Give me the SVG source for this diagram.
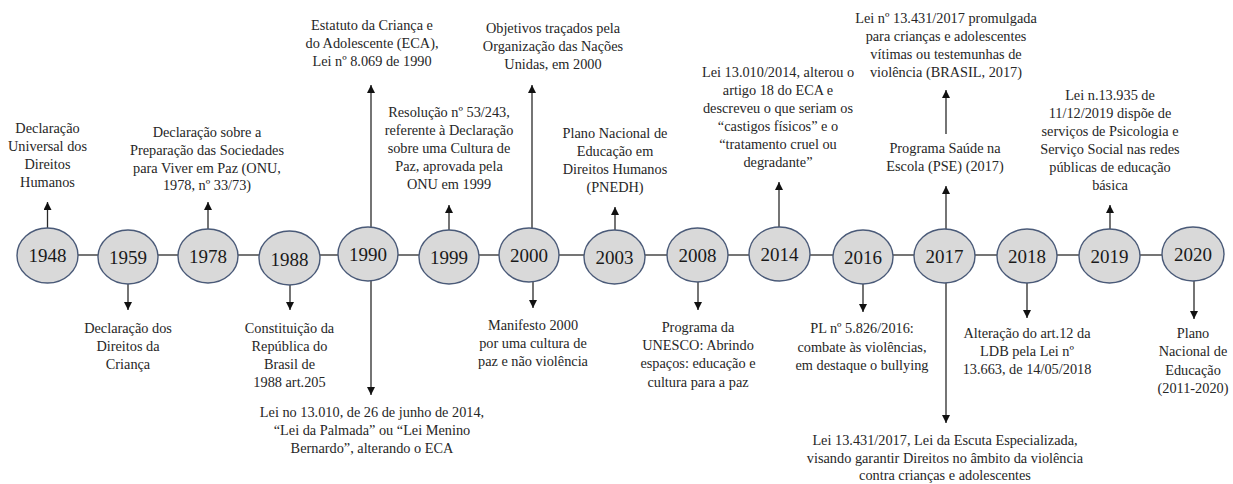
<svg xmlns="http://www.w3.org/2000/svg" width="1233" height="484" viewBox="0 0 1233 484">
<style>
.n ellipse{fill:#d9d9d9;stroke:#4a5a78;stroke-width:1.4}
.yr{font-family:"Liberation Serif",serif;font-size:19px;fill:#1a1a1a;text-anchor:middle}
.lb{font-family:"Liberation Serif",serif;font-size:14.3px;fill:#262626;text-anchor:middle}
.c line{stroke:#2a2a2a;stroke-width:1.3;fill:none}
.c .a{marker-end:url(#ah)}
</style>
<defs>
<marker id="ah" viewBox="0 0 10 10" refX="10" refY="5" markerWidth="8" markerHeight="8" markerUnits="userSpaceOnUse" orient="auto">
<path d="M0,0 L10,5 L0,10 z" fill="#111"/>
</marker>
</defs>
<g class="c" id="connectors">
<line x1="78" y1="255" x2="98" y2="255"/>
<line x1="158" y1="255" x2="178" y2="255"/>
<line x1="238" y1="255" x2="259" y2="255"/>
<line x1="320" y1="255" x2="338" y2="255"/>
<line x1="398" y1="255" x2="419" y2="255"/>
<line x1="479" y1="255" x2="499" y2="255"/>
<line x1="559" y1="255" x2="584" y2="255"/>
<line x1="645" y1="255" x2="667" y2="255"/>
<line x1="728" y1="255" x2="749" y2="255"/>
<line x1="810" y1="255" x2="833" y2="255"/>
<line x1="893" y1="255" x2="915" y2="255"/>
<line x1="975" y1="255" x2="997" y2="255"/>
<line x1="1057" y1="255" x2="1079" y2="255"/>
<line x1="1140" y1="255" x2="1162" y2="255"/>
<line class="a" x1="47.5" y1="228" x2="47.5" y2="202"/>
<line class="a" x1="208" y1="229" x2="208" y2="202"/>
<line class="a" x1="371" y1="227" x2="371" y2="85"/>
<line class="a" x1="449" y1="230" x2="449" y2="205"/>
<line class="a" x1="532" y1="228" x2="532" y2="85"/>
<line class="a" x1="615" y1="230" x2="615" y2="207"/>
<line class="a" x1="779" y1="227" x2="779" y2="182"/>
<line class="a" x1="946" y1="229" x2="946" y2="186"/>
<line class="a" x1="946" y1="134" x2="946" y2="90"/>
<line class="a" x1="1110" y1="229" x2="1110" y2="205"/>
<line class="a" x1="128" y1="284" x2="128" y2="310"/>
<line class="a" x1="290" y1="285" x2="290" y2="310"/>
<line class="a" x1="371" y1="281" x2="371" y2="395"/>
<line class="a" x1="533" y1="282" x2="533" y2="308"/>
<line class="a" x1="698" y1="282" x2="698" y2="310"/>
<line class="a" x1="863" y1="284" x2="863" y2="312"/>
<line class="a" x1="946" y1="283" x2="946" y2="423"/>
<line class="a" x1="1027" y1="283" x2="1027" y2="318"/>
<line class="a" x1="1194" y1="281" x2="1194" y2="319"/>
</g>
<g class="n" id="n1948"><ellipse cx="47.5" cy="255.5" rx="30.5" ry="27.5"/><text class="yr" x="47.5" y="262">1948</text>
<text class="lb" x="47.5"><tspan x="47.5" y="132.5">Declaração</tspan><tspan x="47.5" y="150.5">Universal dos</tspan><tspan x="47.5" y="168.5">Direitos</tspan><tspan x="47.5" y="186.5">Humanos</tspan></text></g>
<g class="n" id="n1959"><ellipse cx="128" cy="257" rx="30" ry="27"/><text class="yr" x="128" y="264">1959</text>
<text class="lb"><tspan x="128" y="332.5">Declaração dos</tspan><tspan x="128" y="350.5">Direitos da</tspan><tspan x="128" y="368.5">Criança</tspan></text></g>
<g class="n" id="n1978"><ellipse cx="208" cy="256" rx="30" ry="27"/><text class="yr" x="208" y="263">1978</text>
<text class="lb"><tspan x="207" y="136.5">Declaração sobre a</tspan><tspan x="207" y="154.5">Preparação das Sociedades</tspan><tspan x="207" y="172.5">para Viver em Paz (ONU,</tspan><tspan x="207" y="190">1978, nº 33/73)</tspan></text></g>
<g class="n" id="n1988"><ellipse cx="289.5" cy="258" rx="30.5" ry="27"/><text class="yr" x="289.5" y="266">1988</text>
<text class="lb"><tspan x="289.5" y="332.5">Constituição da</tspan><tspan x="289.5" y="350.5">República do</tspan><tspan x="289.5" y="368.5">Brasil de</tspan><tspan x="289.5" y="386.5">1988 art.205</tspan></text></g>
<g class="n" id="n1990"><ellipse cx="368" cy="254" rx="30" ry="27"/><text class="yr" x="368" y="261">1990</text>
<text class="lb"><tspan x="372" y="29.5">Estatuto da Criança e</tspan><tspan x="372" y="47.5">do Adolescente (ECA),</tspan><tspan x="372" y="65.5">Lei nº 8.069 de 1990</tspan></text>
<text class="lb"><tspan x="372" y="416.5">Lei no 13.010, de 26 de junho de 2014,</tspan><tspan x="372" y="434.5">“Lei da Palmada” ou “Lei Menino</tspan><tspan x="372" y="452.5">Bernardo”, alterando o ECA</tspan></text></g>
<g class="n" id="n1999"><ellipse cx="449" cy="257" rx="30" ry="27"/><text class="yr" x="449" y="264">1999</text>
<text class="lb"><tspan x="449" y="116.5">Resolução nº 53/243,</tspan><tspan x="449" y="134.5">referente à Declaração</tspan><tspan x="449" y="152.5">sobre uma Cultura de</tspan><tspan x="449" y="171">Paz, aprovada pela</tspan><tspan x="449" y="189">ONU em 1999</tspan></text></g>
<g class="n" id="n2000"><ellipse cx="529" cy="255" rx="30" ry="27"/><text class="yr" x="529" y="262">2000</text>
<text class="lb"><tspan x="553" y="32.5">Objetivos traçados pela</tspan><tspan x="553" y="50.5">Organização das Nações</tspan><tspan x="553" y="68.5">Unidas, em 2000</tspan></text>
<text class="lb"><tspan x="533" y="329.5">Manifesto 2000</tspan><tspan x="533" y="347.5">por uma cultura de</tspan><tspan x="533" y="365.5">paz e não violência</tspan></text></g>
<g class="n" id="n2003"><ellipse cx="614.5" cy="257" rx="30.5" ry="27"/><text class="yr" x="614.5" y="264">2003</text>
<text class="lb"><tspan x="615" y="137.5">Plano Nacional de</tspan><tspan x="615" y="155.5">Educação em</tspan><tspan x="615" y="173.5">Direitos Humanos</tspan><tspan x="615" y="191.5">(PNEDH)</tspan></text></g>
<g class="n" id="n2008"><ellipse cx="697.5" cy="255" rx="30.5" ry="27"/><text class="yr" x="697.5" y="262">2008</text>
<text class="lb"><tspan x="698" y="331.5">Programa da</tspan><tspan x="698" y="349.5">UNESCO: Abrindo</tspan><tspan x="698" y="368">espaços: educação e</tspan><tspan x="698" y="386.5">cultura para a paz</tspan></text></g>
<g class="n" id="n2014"><ellipse cx="779.5" cy="254" rx="30.5" ry="27"/><text class="yr" x="779.5" y="261">2014</text>
<text class="lb"><tspan x="778" y="76.5">Lei 13.010/2014, alterou o</tspan><tspan x="778" y="94.5">artigo 18 do ECA e</tspan><tspan x="778" y="112.5">descreveu o que seriam os</tspan><tspan x="778" y="131">“castigos físicos” e o</tspan><tspan x="778" y="149">“tratamento cruel ou</tspan><tspan x="778" y="167">degradante”</tspan></text></g>
<g class="n" id="n2016"><ellipse cx="863" cy="257" rx="30" ry="27"/><text class="yr" x="863" y="264">2016</text>
<text class="lb"><tspan x="862" y="333">PL nº 5.826/2016:</tspan><tspan x="862" y="351.5">combate às violências,</tspan><tspan x="862" y="370">em destaque o bullying</tspan></text></g>
<g class="n" id="n2017"><ellipse cx="944.5" cy="256" rx="30.5" ry="27"/><text class="yr" x="944.5" y="263">2017</text>
<text class="lb"><tspan x="946" y="22.5">Lei nº 13.431/2017 promulgada</tspan><tspan x="946" y="41">para crianças e adolescentes</tspan><tspan x="946" y="59">vítimas ou testemunhas de</tspan><tspan x="946" y="77">violência (BRASIL, 2017)</tspan></text>
<text class="lb"><tspan x="945" y="152.5">Programa Saúde na</tspan><tspan x="945" y="170.5">Escola (PSE) (2017)</tspan></text>
<text class="lb"><tspan x="945" y="445">Lei 13.431/2017, Lei da Escuta Especializada,</tspan><tspan x="945" y="463">visando garantir Direitos no âmbito da violência</tspan><tspan x="945" y="480">contra crianças e adolescentes</tspan></text></g>
<g class="n" id="n2018"><ellipse cx="1027" cy="256" rx="30" ry="27"/><text class="yr" x="1027" y="263">2018</text>
<text class="lb"><tspan x="1027" y="337.5">Alteração do art.12 da</tspan><tspan x="1027" y="356">LDB pela Lei nº</tspan><tspan x="1027" y="374">13.663, de 14/05/2018</tspan></text></g>
<g class="n" id="n2019"><ellipse cx="1109.5" cy="256" rx="30.5" ry="27"/><text class="yr" x="1109.5" y="263">2019</text>
<text class="lb"><tspan x="1110" y="99.5">Lei n.13.935 de</tspan><tspan x="1110" y="117.5">11/12/2019 dispõe de</tspan><tspan x="1110" y="135.5">serviços de Psicologia e</tspan><tspan x="1110" y="153.5">Serviço Social nas redes</tspan><tspan x="1110" y="171.5">públicas de educação</tspan><tspan x="1110" y="189.5">básica</tspan></text></g>
<g class="n" id="n2020"><ellipse cx="1193" cy="254" rx="31" ry="27"/><text class="yr" x="1193" y="261">2020</text>
<text class="lb"><tspan x="1193" y="337.5">Plano</tspan><tspan x="1193" y="356">Nacional de</tspan><tspan x="1193" y="374.5">Educação</tspan><tspan x="1193" y="392.5">(2011-2020)</tspan></text></g>
</svg>
